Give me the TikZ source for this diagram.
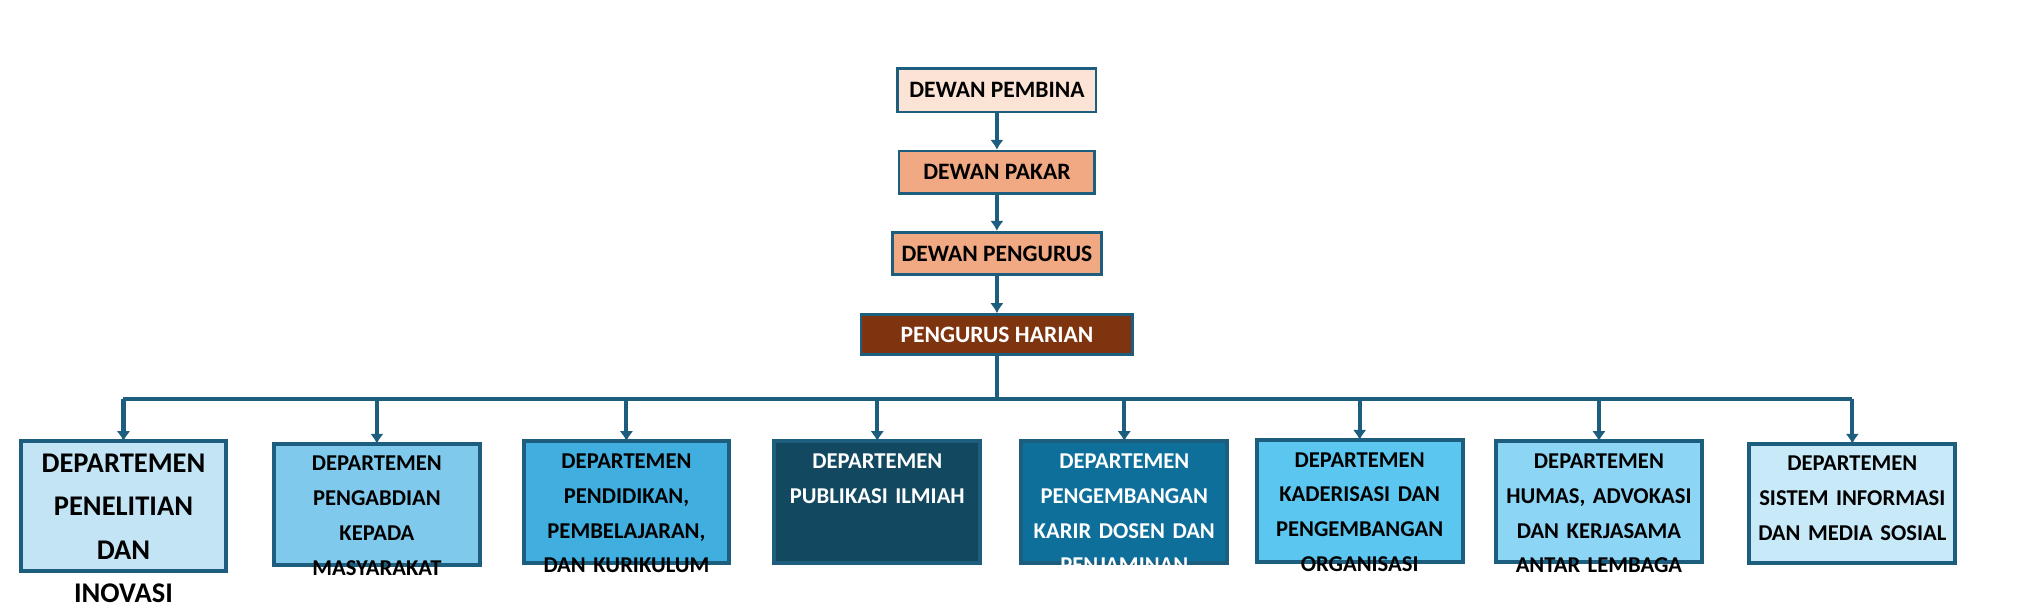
\documentclass[tikz,border=0pt]{standalone}
\usepackage{fontspec}
\setmainfont{Carlito}
\usetikzlibrary{positioning,arrows.meta}
\definecolor{edgeblue}{HTML}{1D5E7E}
\definecolor{pembina}{HTML}{FBE3D6}
\definecolor{pakar}{HTML}{F1A983}
\definecolor{harian}{HTML}{7F3410}
\begin{document}
\begin{tikzpicture}[x=0.01cm,y=-0.01cm,
  box/.style={draw=edgeblue,line width=0.6pt,font=\fontsize{5.2}{6}\selectfont\bfseries,inner sep=0pt},
  dept/.style={align=center,text width=1.5cm,inner sep=0pt},
  link/.style={draw=edgeblue,line width=0.9pt,-{Latex[length=2.2pt,width=3pt]}}]
\useasboundingbox (0,0) rectangle (1568,474);
\node[box,fill=pembina,minimum width=1.54cm,minimum height=0.34cm] (pembina) at (775,70) {DEWAN PEMBINA};
\node[box,fill=pakar,minimum width=1.52cm,minimum height=0.33cm] (pakar) at (775,134) {DEWAN PAKAR};
\node[box,fill=pakar,minimum width=1.62cm,minimum height=0.33cm] (pengurus) at (775,197) {DEWAN PENGURUS};
\node[box,fill=harian,text=white,minimum width=2.11cm,minimum height=0.31cm] (harian) at (775,260) {PENGURUS HARIAN};
\draw[link] (pembina) -- (pakar);
\draw[link] (pakar) -- (pengurus);
\draw[link] (pengurus) -- (harian);
\coordinate (bus) at (775,310);
\draw[edgeblue,line width=0.9pt] (harian.south) -- (bus);
\draw[edgeblue,line width=0.9pt] (96,310) -- (1440,310);
% departments: x-center / top / bottom / fill / text colour / font size / line skip / label
\foreach \n/\x/\t/\b/\c/\tc/\fs/\ls/\lbl in {
  1/96/343/444/C3E4F5/black/6.3/9.6/{DEPARTEMEN\\PENELITIAN DAN\\INOVASI},
  2/293/345/439/7FC9EC/black/5/7.7/{DEPARTEMEN\\PENGABDIAN\\KEPADA\\MASYARAKAT},
  3/487/343/438/41AEE0/black/5/7.7/{DEPARTEMEN\\PENDIDIKAN,\\PEMBELAJARAN,\\DAN KURIKULUM},
  4/682/343/438/124961/white/5/7.7/{DEPARTEMEN\\PUBLIKASI ILMIAH},
  5/874/343/438/0F6F9B/white/5/7.7/{DEPARTEMEN\\PENGEMBANGAN\\KARIR DOSEN DAN\\PENJAMINAN MUTU},
  6/1057/342/437/5BC7F0/black/5/7.7/{DEPARTEMEN\\KADERISASI DAN\\PENGEMBANGAN\\ORGANISASI},
  7/1243/343/437/8DD5F5/black/5/7.7/{DEPARTEMEN\\HUMAS, ADVOKASI\\DAN KERJASAMA\\ANTAR LEMBAGA},
  8/1440/345/438/C7E9F8/black/5/7.7/{DEPARTEMEN\\SISTEM INFORMASI\\DAN MEDIA SOSIAL}}{
  \definecolor{deptfill}{HTML}{\c}
  \draw[edgeblue,line width=0.9pt,fill=deptfill] (\x-80,\t) rectangle (\x+80,\b);
  \coordinate (d\n) at (\x,\t);
  \node[dept,text=\tc,anchor=north,font=\fontsize{\fs}{\ls}\selectfont\bfseries] (t\n) at (\x,\t+9) {\lbl};
  \draw[link] (\x,310) -- (d\n);
}
\end{tikzpicture}
\end{document}
